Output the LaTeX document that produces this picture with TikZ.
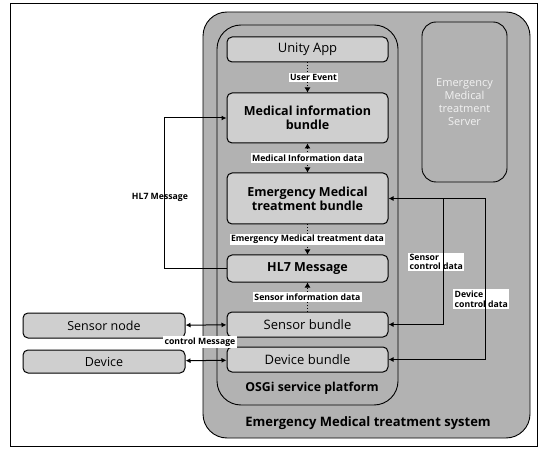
\documentclass[tikz,border=0pt]{standalone}
\usepackage{fontspec}
\setmainfont{Open Sans}
\usepackage{tikz}
\usetikzlibrary{arrows.meta,calc,positioning}
\definecolor{sysGray}{gray}{0.70}
\definecolor{boxGray}{gray}{0.81}

\begin{document}
\begin{tikzpicture}[
    x=1pt,y=-1pt,
    >={Latex[length=5pt,width=5pt]},
    sysbox/.style={draw,line width=0.9pt,rounded corners=24pt,fill=sysGray},
    bundle/.style={draw,line width=1pt,rounded corners=5pt,fill=boxGray,
      minimum width=161pt,align=center,font=\fontsize{12.5}{14}\selectfont\bfseries},
    plain/.style={font=\fontsize{13}{14}\selectfont},
    extbox/.style={draw,line width=1pt,rounded corners=5pt,fill=boxGray,
      minimum width=162pt,font=\fontsize{12.5}{14}\selectfont},
    lbl/.style={fill=white,inner sep=1.5pt,font=\fontsize{8.7}{9.5}\selectfont\bfseries},
    flow/.style={dotted,line width=0.8pt,>={Latex[length=5pt,width=6pt]}},
    link/.style={line width=1pt}
  ]
    \useasboundingbox (0,0) rectangle (541,449);
    \draw[line width=0.6pt] (10,3) rectangle (537,446);

    % system and platform
    \draw[sysbox] (203,12) rectangle (530,438);
    \draw[sysbox] (217,25) rectangle (398,405);
    \node[draw,line width=0.9pt,rounded corners=14pt,fill=sysGray,
      minimum width=85pt,minimum height=160pt,align=center,text=white!90!gray,
      font=\fontsize{11}{13}\selectfont] (server) at (464.5,102)
      {Emergency\\Medical\\treatment\\Server};

    % bundles
    \node[bundle,plain,minimum height=25pt] (unity) at (307.5,49.5) {Unity App};
    \node[bundle,minimum height=50pt] (medinfo) at (307.5,118) {Medical information\\bundle};
    \node[bundle,minimum height=51pt] (emtb) at (307.5,198.5) {Emergency Medical\\treatment bundle};
    \node[bundle,minimum height=27pt] (hl7) at (307.5,268.5) {HL7 Message};
    \node[bundle,plain,minimum height=25pt] (sensorb) at (307.5,324.5) {Sensor bundle};
    \node[bundle,plain,minimum height=25pt] (deviceb) at (307.5,359.5) {Device bundle};

    \node[font=\fontsize{12.3}{13}\selectfont\bfseries] (osgi) at (312,388) {OSGi service platform};
    \node[font=\fontsize{13}{14}\selectfont\bfseries] (system) at (368,423) {Emergency Medical treatment system};

    % outside
    \node[extbox,minimum height=25pt] (sensor) at (104,325.5) {Sensor node};
    \node[extbox,minimum height=23pt] (device) at (104,361.5) {Device};
    \node[lbl,inner sep=2pt] (ctlmsg) at (200,342) {control Message};

    % labels under the lines
    \node[font=\fontsize{8.7}{9.5}\selectfont\bfseries] (hl7lbl) at (160,197) {HL7 Message};
    \node[lbl,align=left,anchor=west] (sctllbl) at (408,262) {Sensor\\control data};
    \node[lbl,align=left,anchor=west] (dctllbl) at (453,299) {Device\\control data};

    % flows inside the platform
    \draw[flow,->] (unity) -- node[lbl,xshift=6pt] {User Event} (medinfo);
    \draw[flow,<->] (medinfo) -- node[lbl] {Medical Information data} (emtb);
    \draw[flow,->] (emtb) -- node[lbl] {Emergency Medical treatment data} (hl7);
    \draw[flow,->] (sensorb) -- node[lbl] {Sensor information data} (hl7);

    \draw[link,->] (hl7.west) -- ++(-62,0) |- (medinfo.west);
    \draw[link,<->] (sensor) -- (sensorb);
    \draw[link,<->] (device) -- (deviceb);

    \coordinate (sctl) at ([xshift=55pt]emtb.east);
    \draw[link,<->] (emtb.east) -- ++(97,0) |- (deviceb.east);
    \draw[link,->] (sctl) |- (sensorb.east);
\end{tikzpicture}
\end{document}
